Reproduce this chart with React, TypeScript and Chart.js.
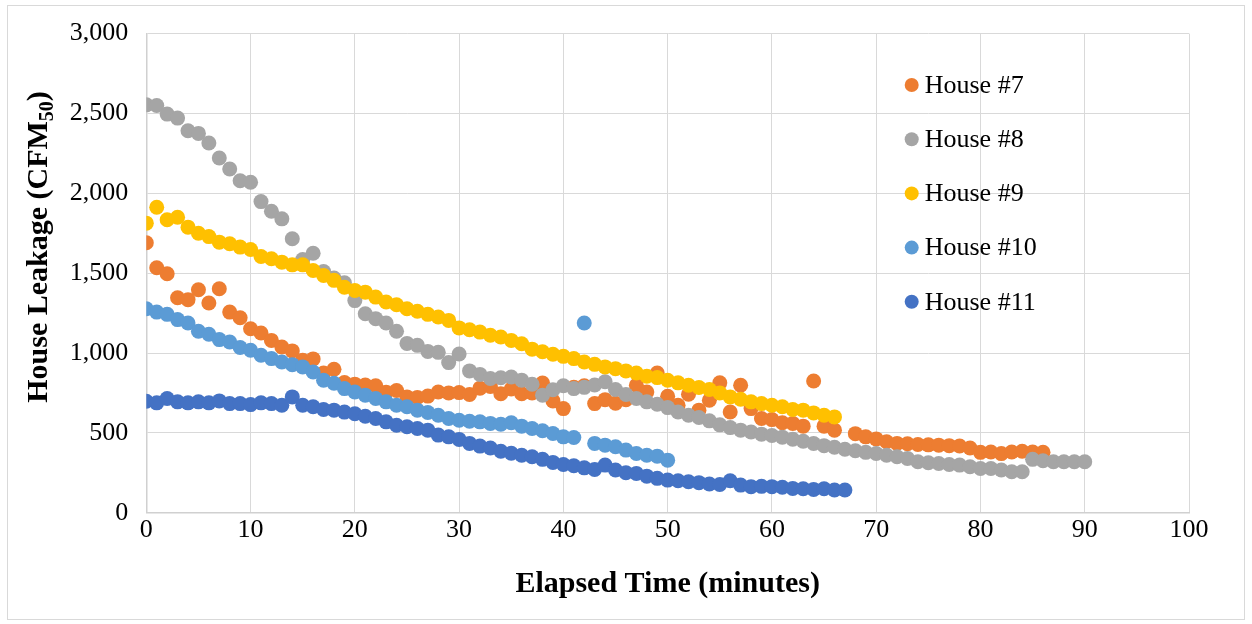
import React, { useEffect, useRef } from "react";
import { Chart, registerables } from "chart.js";

Chart.register(...registerables);

// ---- Data (minute index = position in array; null = no reading) ----
const seriesNames = ["House #7", "House #8", "House #9", "House #10", "House #11"];
const seriesColors = ["#ED7D31", "#A5A5A5", "#FFC000", "#5B9BD5", "#4472C4"];

const house7: (number | null)[] = [
  1690, 1534, 1496, 1346, 1334, 1396, 1313, 1402, 1256, 1221,
  1152, 1125, 1079, 1038, 1013, 954, 963, 875, 898, 815,
  805, 800, 795, 755, 765, 725, 722, 730, 756, 750,
  752, 740, 780, 790, 745, 775, 745, 750, 812, 700,
  652, 785, 795, 683, 708, 685, 708, 798, 756, 875,
  729, 673, 742, 642, 704, 813, 631, 798, 652, 590,
  583, 563, 559, 542, 825, 542, 517, null, 495, 475,
  462, 444, 434, 432, 427, 425, 423, 420, 418, 405,
  378, 380, 370, 380, 385, 380, 378,
];

const house8: (number | null)[] = [
  2554, 2550, 2496, 2471, 2392, 2375, 2315, 2221, 2152, 2079,
  2069, 1948, 1888, 1840, 1715, 1585, 1625, 1510, 1470, 1440,
  1328, 1246, 1215, 1188, 1136, 1060, 1048, 1010, 1004, 940,
  994, 888, 866, 840, 845, 850, 830, 804, 736, 770,
  795, 777, 785, 800, 820, 771, 740, 715, 694, 679,
  658, 631, 610, 596, 575, 550, 533, 517, 505, 492,
  483, 473, 460, 447, 433, 420, 410, 397, 388, 378,
  371, 360, 350, 340, 319, 313, 308, 302, 298, 288,
  277, 277, 267, 256, 256, 334, 325, 319, 319, 319,
  319,
];

const house9: (number | null)[] = [
  1813, 1913, 1834, 1850, 1788, 1750, 1729, 1694, 1684, 1663,
  1648, 1604, 1590, 1569, 1552, 1552, 1517, 1486, 1455, 1412,
  1392, 1381, 1350, 1319, 1302, 1277, 1261, 1242, 1225, 1204,
  1157, 1146, 1131, 1111, 1100, 1079, 1058, 1024, 1008, 992,
  979, 965, 944, 929, 913, 902, 888, 875, 854, 846,
  829, 813, 798, 784, 771, 750, 725, 710, 694, 683,
  673, 663, 646, 642, 625, 610, 600,
];

const house10: (number | null)[] = [
  1277, 1256, 1242, 1209, 1188, 1136, 1117, 1084, 1069, 1034,
  1017, 986, 965, 944, 927, 913, 881, 829, 811, 777,
  756, 736, 715, 694, 673, 663, 642, 627, 610, 590,
  579, 573, 569, 559, 554, 563, 542, 527, 513, 496,
  475, 471, 1188, 434, 423, 413, 392, 371, 360, 354,
  329,
];

const house11: (number | null)[] = [
  698, 688, 715, 694, 688, 694, 688, 700, 683, 683,
  677, 688, 683, 673, 725, 673, 663, 646, 642, 630,
  620, 604, 590, 569, 548, 538, 527, 517, 486, 475,
  459, 434, 417, 405, 385, 372, 360, 350, 334, 315,
  302, 294, 281, 271, 298, 267, 250, 246, 229, 215,
  204, 200, 194, 188, 180, 177, 200, 173, 163, 165,
  163, 159, 152, 150, 146, 150, 142, 142,
];

const seriesValues = [house7, house8, house9, house10, house11];

const xMin = 0;
const xMax = 100;
const xStep = 10;
const yMin = 0;
const yMax = 3000;
const yStep = 500;

const xTitle = "Elapsed Time (minutes)";
const yTitleMain = "House Leakage (CFM";
const yTitleSub = "50";
const yTitleEnd = ")";

const SERIF = "'Liberation Serif', 'Times New Roman', serif";

function toPoints(values: (number | null)[]) {
  const pts: { x: number; y: number }[] = [];
  values.forEach((v, i) => {
    if (v !== null && v !== undefined) pts.push({ x: i, y: v });
  });
  return pts;
}

const overlayPlugin = {
  id: "overlayTitlesLegend",
  afterDraw(chart: any) {
    const ctx: CanvasRenderingContext2D = chart.ctx;
    const area = chart.chartArea;
    ctx.save();

    // Legend inside plot area
    const legX = 911.7;
    const legY0 = 85;
    const legDy = 54.2;
    seriesNames.forEach((name, i) => {
      const y = legY0 + i * legDy;
      ctx.beginPath();
      ctx.fillStyle = seriesColors[i];
      ctx.arc(legX, y, 7, 0, Math.PI * 2);
      ctx.fill();
      ctx.fillStyle = "#000";
      ctx.font = `26px ${SERIF}`;
      ctx.textAlign = "left";
      ctx.textBaseline = "middle";
      ctx.fillText(name, legX + 13, y + 1);
    });

    // X axis title
    ctx.fillStyle = "#000";
    ctx.font = `bold 30px ${SERIF}`;
    ctx.textAlign = "center";
    ctx.textBaseline = "alphabetic";
    ctx.fillText(xTitle, (area.left + area.right) / 2, 592);

    // Y axis title with subscript
    const mainFont = `bold 30px ${SERIF}`;
    const subFont = `bold 20px ${SERIF}`;
    ctx.font = mainFont;
    const w1 = ctx.measureText(yTitleMain).width;
    const w3 = ctx.measureText(yTitleEnd).width;
    ctx.font = subFont;
    const w2 = ctx.measureText(yTitleSub).width;
    const total = w1 + w2 + w3;
    ctx.translate(47, 247);
    ctx.rotate(-Math.PI / 2);
    ctx.textAlign = "left";
    ctx.textBaseline = "alphabetic";
    let x = -total / 2;
    ctx.font = mainFont;
    ctx.fillText(yTitleMain, x, 0);
    x += w1;
    ctx.font = subFont;
    ctx.fillText(yTitleSub, x, 6);
    x += w2;
    ctx.font = mainFont;
    ctx.fillText(yTitleEnd, x, 0);

    ctx.restore();
  },
};

export default function App() {
  const canvasRef = useRef<HTMLCanvasElement | null>(null);

  useEffect(() => {
    if (!canvasRef.current) return;
    const datasets = seriesValues.map((vals, i) => ({
      label: seriesNames[i],
      data: toPoints(vals),
      backgroundColor: seriesColors[i],
      borderColor: seriesColors[i],
      borderWidth: 0,
      pointRadius: 7.5,
      pointHoverRadius: 7.5,
      pointBorderWidth: 0,
      showLine: false,
      order: seriesValues.length - i,
    }));

    const chart = new Chart(canvasRef.current, {
      type: "scatter",
      data: { datasets },
      plugins: [overlayPlugin],
      options: {
        animation: false,
        responsive: false,
        maintainAspectRatio: false,
        devicePixelRatio: 1,
        layout: { padding: { top: 32.7, right: 63, bottom: 0, left: 0 } },
        plugins: {
          legend: { display: false },
          tooltip: { enabled: false },
          title: { display: false },
        },
        scales: {
          x: {
            type: "linear",
            min: xMin,
            max: xMax,
            ticks: {
              stepSize: xStep,
              color: "#000",
              font: { family: SERIF, size: 26 },
              padding: 2,
              maxRotation: 0,
            },
            grid: { color: "#d9d9d9", lineWidth: 1, drawTicks: false },
            border: { color: "#d0d0d0", width: 1.5 },
            afterFit: (scale: any) => {
              scale.height = 111.3;
            },
          },
          y: {
            type: "linear",
            min: yMin,
            max: yMax,
            ticks: {
              stepSize: yStep,
              color: "#000",
              font: { family: SERIF, size: 26 },
              padding: 18,
              callback: (v: any) => Number(v).toLocaleString("en-US"),
            },
            grid: { color: "#d9d9d9", lineWidth: 1, drawTicks: false },
            border: { color: "#d0d0d0", width: 1.5 },
            afterFit: (scale: any) => {
              scale.width = 146.3;
            },
          },
        },
      },
    } as any);

    return () => chart.destroy();
  }, []);

  return (
    <div style={{ position: "absolute", left: 0, top: 0, width: 1252, height: 624, background: "#fff" }}>
      <div
        style={{
          position: "absolute",
          left: 7,
          top: 5,
          width: 1238,
          height: 615,
          border: "1px solid #d9d9d9",
          boxSizing: "border-box",
        }}
      />
      <canvas
        ref={canvasRef}
        width={1252}
        height={624}
        style={{ position: "absolute", left: 0, top: 0, width: 1252, height: 624 }}
      />
    </div>
  );
}
